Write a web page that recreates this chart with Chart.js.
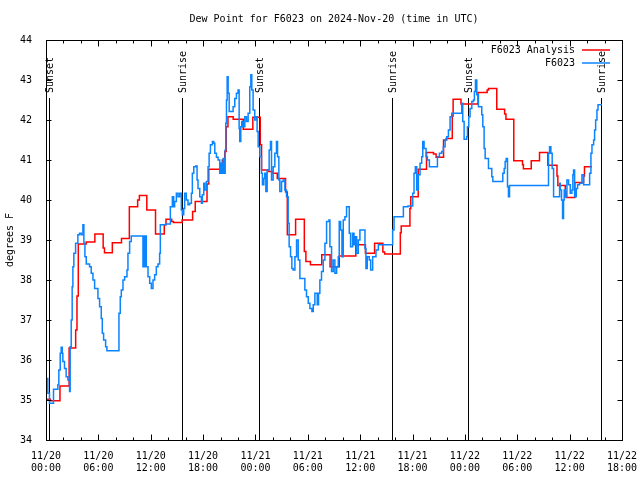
<!DOCTYPE html>
<html lang="en">
<head>
<meta charset="UTF-8" />
<title>Dew Point F6023</title>
<script src="https://cdn.jsdelivr.net/npm/chart.js@4/dist/chart.umd.min.js"></script>
<style>
  html, body { margin: 0; padding: 0; background: #fff; }
  .chart-container { position: relative; width: 640px; height: 480px; }
</style>
</head>
<body>
<div class="chart-container"><canvas id="chart" width="640" height="480"></canvas></div>
<script>
const titleText = 'Dew Point for F6023 on 2024-Nov-20 (time in UTC)';
const yLabel = 'degrees F';

// x values are hours after 11/20 00:00 UTC
const tickDates = ['11/20', '11/20', '11/20', '11/20', '11/21', '11/21', '11/21', '11/21', '11/22', '11/22', '11/22', '11/22'];
const tickTimes = ['00:00', '06:00', '12:00', '18:00', '00:00', '06:00', '12:00', '18:00', '00:00', '06:00', '12:00', '18:00'];

const sunEventHours = [0.3, 15.55, 24.35, 39.65, 48.37, 63.65];
const sunEventNames = ['Sunset', 'Sunrise', 'Sunset', 'Sunrise', 'Sunset', 'Sunrise'];

const analysisHours = [0, 0.5, 1.6, 2.65, 3.4, 3.55, 3.7, 4.6, 5.6, 6.55, 6.7, 7.6, 8.65, 9.55, 10.5,
  10.7, 11.55, 12.55, 13.55, 13.75, 14.4, 14.6, 15.6, 16.8, 17.1, 18.45, 18.65, 19.95, 20.2, 20.48,
  20.65, 20.85, 21.45, 22.6, 23.7, 24.55, 24.7, 25.45, 26.0, 26.5, 27.45, 27.65, 28.6, 29.6, 29.78,
  30.3, 31.6, 32.55, 33.6, 35.5, 36.6, 37.65, 38.6, 38.8, 40.6, 40.7, 41.7, 41.8, 42.65, 43.6,
  44.4, 44.7, 45.55, 45.85, 46.55, 46.65, 47.55, 49.5, 50.55, 50.7, 51.65, 52.55, 52.7, 53.6, 54.6,
  54.7, 55.6, 56.55, 57.5, 58.55, 58.65, 59.5, 59.6, 60.6, 61.6, 61.7, 62.55];
const analysisDew = [35.02, 34.98, 35.35, 36.3, 36.75, 37.6, 38.9, 38.95, 39.15, 38.8, 38.68, 38.93, 39.04, 39.83, 40.0,
  40.11, 39.75, 39.15, 39.38, 39.52, 39.46, 39.44, 39.5, 39.71, 39.96, 40.4, 40.77, 40.75, 41.0, 41.21,
  41.83, 42.08, 42.02, 41.77, 42.07, 41.38, 40.75, 40.71, 40.67, 40.54, 40.2, 39.13, 39.52, 38.71, 38.46,
  38.38, 38.63, 38.33, 38.6, 38.88, 38.67, 38.92, 38.7, 38.65, 39.18, 39.35, 39.79, 40.08, 40.77, 41.19,
  41.15, 41.07, 41.5, 41.54, 42.1, 42.52, 42.4, 42.69, 42.75, 42.79, 42.27, 42.15, 42.02, 40.98, 40.88,
  40.78, 40.98, 41.19, 40.87, 40.6, 40.36, 40.2, 40.06, 40.44, 40.6, 40.83, 40.83];

const obsHours = [0.02, 0.21, 0.40, 0.86, 1.36, 1.47, 1.63, 1.74, 1.86, 1.93, 2.12, 2.31, 2.51, 2.70, 2.77,
  2.89, 3.0, 3.08, 3.19, 3.39, 3.65, 3.84, 4.04, 4.23, 4.34, 4.46, 4.61, 4.99, 5.18, 5.38,
  5.57, 5.95, 6.14, 6.33, 6.45, 6.6, 6.83, 6.98, 8.36, 8.51, 8.63, 8.82, 9.01, 9.28, 9.39,
  9.58, 9.77, 11.11, 11.19, 11.3, 11.42, 11.49, 11.69, 11.88, 12.07, 12.26, 12.45, 12.64, 12.83, 13.02,
  13.1, 13.71, 14.25, 14.48, 14.63, 14.74, 14.94, 15.13, 15.32, 15.51, 15.62, 15.78, 15.89, 16.08, 16.27,
  16.46, 16.66, 16.77, 16.93, 17.16, 17.31, 17.42, 17.62, 17.81, 17.92, 18.08, 18.19, 18.38, 18.57, 18.69,
  18.84, 19.07, 19.22, 19.34, 19.53, 19.72, 19.91, 20.03, 20.18, 20.3, 20.41, 20.53, 20.6, 20.68, 20.76,
  20.87, 20.99, 21.44, 21.63, 21.82, 22.01, 22.13,
  22.20, 22.32, 22.43, 22.59, 22.78, 22.97, 23.16, 23.35, 23.47, 23.58, 23.73, 23.92, 24.12, 24.19, 24.31,
  24.5, 24.69, 24.8, 24.96, 25.07, 25.19, 25.34, 25.57, 25.72, 25.84, 26.03, 26.22, 26.41, 26.53, 26.68,
  26.79, 26.99, 27.18, 27.37, 27.56, 27.75, 27.86, 28.02, 28.17, 28.32, 28.52, 28.71, 28.9, 29.09, 29.66,
  29.85, 30.05, 30.24, 30.47, 30.62, 30.81, 31.08, 31.23, 31.38, 31.57, 31.77, 31.96, 32.15, 32.42, 32.53,
  32.72, 32.91, 33.1, 33.3, 33.49, 33.6, 33.76, 33.91, 34.06, 34.25, 34.44, 34.75, 34.9, 35.13, 35.29,
  35.44, 35.59, 35.78, 35.97, 36.55, 36.66, 36.81, 37.04, 37.2, 37.43, 37.81, 38.08, 39.72, 39.88, 40.95,
  41.47, 42.02, 42.17, 42.32, 42.48, 42.67, 42.86, 43.05, 43.17, 43.32, 43.55, 43.7, 43.93,
  44.85, 45.08, 45.34, 45.53, 45.73, 45.92, 46.11, 46.3, 46.49, 47.64, 47.75, 47.91, 48.21, 48.29, 48.44,
  48.59, 48.79, 48.98, 49.09, 49.21, 49.36, 49.55, 49.93, 50.05, 50.2, 50.32, 50.7, 51.08, 51.2, 52.34,
  52.5, 52.61, 52.73, 52.88, 52.99, 53.11, 57.58, 57.7, 57.85, 58.0, 58.16, 58.85, 58.92, 59.07, 59.19,
  59.3, 59.38, 59.5, 59.69, 59.88, 60.07, 60.26, 60.37, 60.45, 60.57, 60.76, 60.91, 61.14, 61.41, 61.6,
  62.29, 62.44, 62.56, 62.75, 62.86, 62.98, 63.13, 63.25, 63.7];
const obsDew = [35.54, 35.17, 34.92, 35.27, 35.38, 35.75, 36.17, 36.32, 36.17, 35.96, 35.79, 35.58, 35.5, 35.21, 36.33,
  37.0, 37.83, 38.33, 38.67, 38.92, 39.13, 39.17, 39.13, 39.38, 38.92, 38.58, 38.4, 38.33, 38.17, 38.0,
  37.79, 37.54, 37.33, 37.04, 36.67, 36.5, 36.33, 36.23, 37.17, 37.58, 37.75, 38.0, 38.08, 38.25, 38.67,
  38.96, 39.1, 38.33, 39.1, 38.33, 39.1, 38.33, 38.08, 37.92, 37.79, 38.0, 38.13, 38.33, 38.4, 38.67,
  39.38, 39.4, 39.83, 40.08, 39.83, 39.96, 40.17, 40.08, 40.17, 39.75, 39.63, 39.79, 40.17, 40.0, 39.88,
  39.92, 40.17, 40.67, 40.83, 40.85, 40.5, 40.29, 40.08, 39.92, 40.13, 40.42, 40.25, 40.46, 40.83, 41.17,
  41.38, 41.46, 41.42, 41.17, 41.07, 41.0, 40.67, 40.92, 40.67, 41.04, 40.67, 41.25, 41.92, 42.5, 43.08,
  42.67, 42.21, 42.33, 42.54, 42.67, 42.75, 41.79,
  41.46, 41.83, 41.96, 41.83, 42.08, 41.96, 42.17, 42.83, 43.13, 42.75, 42.25, 42.0, 42.08, 41.71, 41.33,
  41.08, 40.67, 40.38, 40.54, 40.67, 40.21, 40.75, 41.25, 41.46, 40.5, 40.83, 41.17, 41.46, 41.08, 40.5,
  40.21, 40.46, 40.5, 40.25, 40.08, 39.42, 38.83, 38.58, 38.29, 38.25, 38.58, 39.0, 38.5, 38.04, 37.75,
  37.58, 37.42, 37.29, 37.21, 37.38, 37.67, 37.38, 37.67, 38.0, 38.21, 38.5, 38.92, 39.46, 39.5, 38.83,
  38.21, 38.5, 38.17, 38.33, 38.58, 39.46, 39.25, 38.58, 39.5, 39.58, 39.83, 39.17, 38.83, 39.17, 38.88,
  39.08, 38.67, 39.0, 39.25, 38.79, 38.29, 38.58, 38.5, 38.25, 38.58, 38.75, 38.88, 39.25, 39.58, 39.83,
  39.85, 40.17, 40.67, 40.83, 40.25, 40.63, 40.92, 41.08, 41.46, 41.29, 41.08, 41.0, 40.83,
  41.08, 41.17, 41.21, 41.33, 41.5, 41.58, 41.75, 42.08, 42.17, 42.42, 41.96, 41.52, 41.58, 41.83, 42.08,
  42.29, 42.46, 42.5, 42.71, 43.0, 42.63, 42.33, 42.13, 41.83, 41.29, 41.04, 40.79, 40.58, 40.46, 40.67,
  40.79, 40.96, 41.04, 40.33, 40.08, 40.36, 41.17, 41.33, 41.17, 40.79, 40.08, 40.42, 40.25, 40.0, 39.54,
  40.0, 40.25, 40.08, 40.5, 40.38, 40.17, 40.25, 40.63, 40.75, 40.08, 40.29, 40.38, 40.42, 40.63, 40.38,
  40.67, 41.17, 41.38, 41.5, 41.75, 42.0, 42.25, 42.38, 42.38];

const fontFamily = '"DejaVu Sans Mono", "Liberation Mono", monospace';
Chart.defaults.font.family = fontFamily;
Chart.defaults.font.size = 10;
Chart.defaults.color = '#000';

const toPoints = (xs, ys) => xs.map((h, i) => ({ x: h, y: ys[i] }));

// box, inward ticks, sun lines, legend and title drawn the gnuplot way
const frame = {
  id: 'frame',
  beforeDatasetsDraw(chart) {
    const { ctx, chartArea: a, scales: { x } } = chart;
    ctx.save();
    ctx.strokeStyle = '#000';
    ctx.fillStyle = '#000';
    ctx.lineWidth = 1;
    ctx.font = '10px ' + fontFamily;
    sunEventHours.forEach((h, i) => {
      const px = Math.round(x.getPixelForValue(h)) + 0.5;
      ctx.beginPath();
      ctx.moveTo(px, a.bottom);
      ctx.lineTo(px, a.top + 58);
      ctx.stroke();
      ctx.save();
      ctx.translate(px + 1, a.top + 53);
      ctx.rotate(-Math.PI / 2);
      ctx.textAlign = 'left';
      ctx.textBaseline = 'middle';
      ctx.fillText(sunEventNames[i], 0, 0);
      ctx.restore();
    });
    ctx.restore();
  },
  afterDraw(chart) {
    const { ctx, chartArea: a, scales: { x, y } } = chart;
    const L = Math.round(a.left) + 0.5, R = Math.round(a.right) + 0.5;
    const T = Math.round(a.top) + 0.5, B = Math.round(a.bottom) + 0.5;
    ctx.save();
    ctx.strokeStyle = '#000';
    ctx.fillStyle = '#000';
    ctx.lineWidth = 1;
    ctx.strokeRect(L, T, R - L, B - T);

    ctx.beginPath();
    for (let h = x.min; h <= x.max; h += 2) {
      const px = Math.round(x.getPixelForValue(h)) + 0.5;
      const len = h % 6 === 0 ? 6 : 3;
      ctx.moveTo(px, B); ctx.lineTo(px, B - len);
      ctx.moveTo(px, T); ctx.lineTo(px, T + len);
    }
    y.ticks.forEach(t => {
      const py = Math.round(y.getPixelForValue(t.value)) + 0.5;
      ctx.moveTo(L, py); ctx.lineTo(L + 5, py);
      ctx.moveTo(R, py); ctx.lineTo(R - 5, py);
    });
    ctx.stroke();

    ctx.font = '10px ' + fontFamily;
    ctx.textBaseline = 'middle';
    chart.data.datasets.forEach((ds, i) => {
      const ly = a.top + 10 + i * 13;
      ctx.textAlign = 'right';
      ctx.fillText(ds.label, a.right - 47, ly);
      ctx.strokeStyle = ds.borderColor;
      ctx.lineWidth = 1.5;
      ctx.beginPath();
      ctx.moveTo(a.right - 40, ly);
      ctx.lineTo(a.right - 12, ly);
      ctx.stroke();
    });

    ctx.textAlign = 'center';
    ctx.fillText(titleText, (a.left + a.right) / 2, 19);
    ctx.restore();
  }
};

new Chart(document.getElementById('chart'), {
  type: 'line',
  data: {
    datasets: [
      {
        label: 'F6023 Analysis',
        data: toPoints(analysisHours, analysisDew),
        borderColor: '#ff0000',
        borderWidth: 1.5,
        pointRadius: 0,
        stepped: true,
        order: 2
      },
      {
        label: 'F6023',
        data: toPoints(obsHours, obsDew),
        borderColor: '#0a84ff',
        borderWidth: 1.5,
        pointRadius: 0,
        stepped: true,
        order: 1
      }
    ]
  },
  options: {
    responsive: false,
    animation: false,
    devicePixelRatio: 1,
    layout: { padding: { top: 40, right: 18, left: 0, bottom: 0 } },
    plugins: { legend: { display: false }, tooltip: { enabled: false } },
    scales: {
      x: {
        type: 'linear',
        min: 0,
        max: 66,
        grid: { display: false },
        border: { display: false },
        afterFit: s => { s.height = 40; s.paddingLeft = 0; s.paddingRight = 0; },
        ticks: {
          stepSize: 6,
          autoSkip: false,
          maxRotation: 0,
          padding: 2,
          callback: v => {
            const i = Math.round(v / 6);
            return [tickDates[i], tickTimes[i]];
          }
        }
      },
      y: {
        min: 34,
        max: 44,
        grid: { display: false },
        border: { display: false },
        afterFit: s => { s.width = 46; },
        title: { display: true, text: yLabel, padding: { top: 4, bottom: 0 } },
        ticks: { stepSize: 1, padding: 6 }
      }
    }
  },
  plugins: [frame]
});
</script>
</body>
</html>
